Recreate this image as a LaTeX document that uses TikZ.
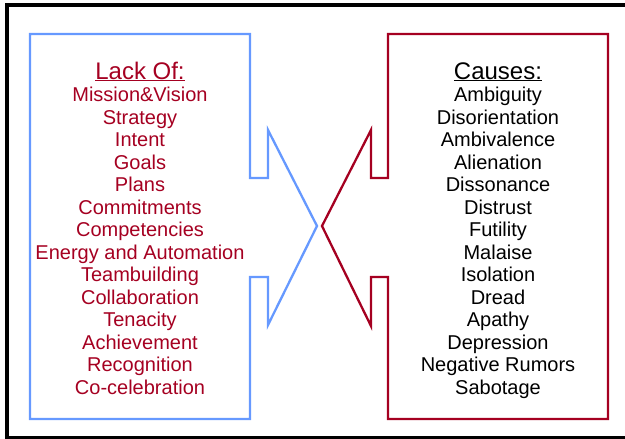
\documentclass[tikz,border=0pt]{standalone}
\usepackage{fontspec}
\setmainfont{Liberation Sans}
\definecolor{myred}{RGB}{165,0,33}
\definecolor{myblue}{RGB}{102,153,255}
\begin{document}
\begin{tikzpicture}[x=1pt,y=-1pt,
  shapeline/.style={line width=2.3pt,line join=miter},
  itemtext/.style={anchor=base,inner sep=0pt,font=\fontsize{20}{22}\selectfont},
  headtext/.style={anchor=base,inner sep=0pt,font=\fontsize{24}{26}\selectfont}]
\useasboundingbox (0,0) rectangle (625,439);
% frame
\draw[line width=4pt] (630,4.5) -- (7,4.5) -- (7,437.5) -- (630,437.5);
% blue shape
\draw[shapeline,myblue] (30,34) -- (250,34) -- (250,178) -- (268,178) -- (268,130) -- (317,226)
  -- (268,325) -- (268,277) -- (250,277) -- (250,419) -- (30,419) -- cycle;
% red shape
\draw[shapeline,myred] (388,34) -- (608,34) -- (608,419) -- (388,419) -- (388,277) -- (371,277)
  -- (371,326) -- (322,226) -- (371,130) -- (371,178) -- (388,178) -- cycle;
% headings
\node[headtext,text=myred] (lackof) at (140,79) {\underline{Lack Of:}};
\node[headtext,text=black] (causes) at (498,79) {\underline{Causes:}};
% left list
\foreach \t [count=\i from 0] in {Mission\&Vision,Strategy,Intent,Goals,Plans,Commitments,Competencies,Energy and Automation,Teambuilding,Collaboration,Tenacity,Achievement,Recognition,Co-celebration}
  \node[itemtext,text=myred] (l\i) at (140,101.7+22.5*\i) {\t};
% right list
\foreach \t [count=\i from 0] in {Ambiguity,Disorientation,Ambivalence,Alienation,Dissonance,Distrust,Futility,Malaise,Isolation,Dread,Apathy,Depression,Negative Rumors,Sabotage}
  \node[itemtext,text=black] (r\i) at (498,101.7+22.5*\i) {\t};
\end{tikzpicture}
\end{document}
